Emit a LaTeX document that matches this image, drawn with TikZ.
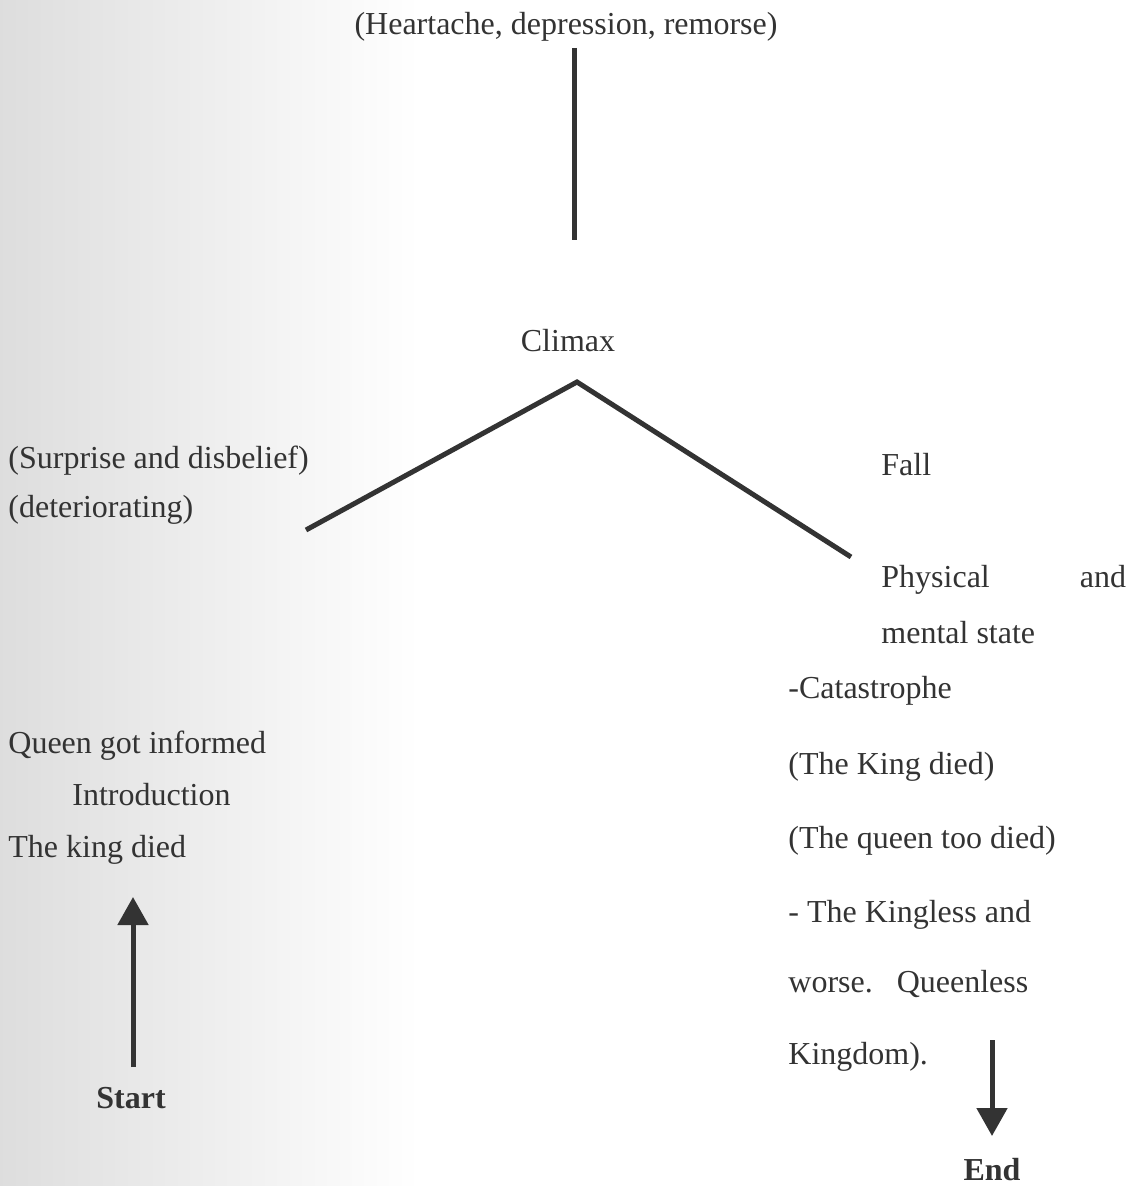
\documentclass[tikz,border=0pt]{standalone}
\usepackage{fontspec}
\setmainfont{Liberation Serif}
\usetikzlibrary{arrows.meta,positioning}

\begin{document}
\begin{tikzpicture}[
      x=0.5pt, y=-0.5pt,
      font=\fontsize{16}{19}\selectfont,
      every node/.style={text=black!80, inner sep=0pt},
      lbl/.style={anchor=base west},
      mid/.style={anchor=base},
      tag/.style={anchor=base, font=\fontsize{16}{19}\selectfont\bfseries},
      plot/.style={draw=black!80, line width=2.5pt},
      ar/.style={plot, -{Triangle[length=14pt, width=15pt]}}]
    \useasboundingbox (0,0) rectangle (1141,1186);
    \shade[left color=black!17, right color=white] (-120,0) rectangle (420,1186);
    % top of the curve
    \node[mid] (feel) at (566,35) {(Heartache, depression, remorse)};
    \node[mid] (climax) at (568,352) {Climax};
    \coordinate (stemtop) at (574,48);
    \coordinate (stembot) at (574,240);
    \coordinate (peak) at (577,382);
    \coordinate (riseend) at (306,530);
    \coordinate (fallend) at (851,557);
    \draw[plot] (stemtop) -- (stembot);
    \draw[plot] (riseend) -- (peak) -- (fallend);
    % rising side
    \node[lbl] (surp) at (8,468) {(Surprise and disbelief)};
    \node[lbl] (det) at (8,517) {(deteriorating)};
    \node[lbl] (queen) at (8,753) {Queen got informed};
    \node[lbl] (intro) at (72,805) {Introduction};
    \node[lbl] (king) at (8,857) {The king died};
    \node[tag] (start) at (131,1108) {Start};
    \coordinate (starttail) at (133,1067);
    \coordinate (starttip) at (133,897);
    \draw[ar] (starttail) -- (starttip);
    % falling side
    \node[lbl] (fall) at (881,475) {Fall};
    \node[lbl] (phys) at (881,587) {Physical\hspace{45pt}and};
    \node[lbl] (ment) at (881,643) {mental state};
    \node[lbl] (cat) at (788,698) {-Catastrophe};
    \node[lbl] (kdied) at (788,774) {(The King died)};
    \node[lbl] (qdied) at (788,848) {(The queen too died)};
    \node[lbl] (kless) at (788,922) {- The Kingless and};
    \node[lbl] (worse) at (788,992) {worse.\hspace{12pt}Queenless};
    \node[lbl] (kdom) at (788,1064) {Kingdom).};
    \node[tag] (end) at (992,1180) {End};
    \coordinate (endtail) at (992,1040);
    \coordinate (endtip) at (992,1136);
    \draw[ar] (endtail) -- (endtip);
  \end{tikzpicture}
\end{document}
